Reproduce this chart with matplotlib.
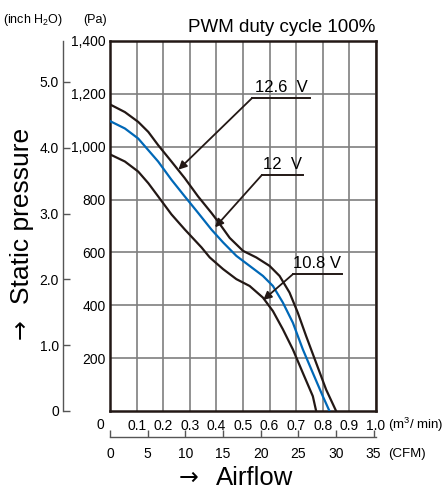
import numpy as np
import matplotlib
matplotlib.use("Agg")
from matplotlib import pyplot as plt

# airflow (m3/min) vs static pressure (Pa)
q_126 = [0, 0.056, 0.106, 0.144, 0.181, 0.231, 0.281, 0.331, 0.381, 0.406, 0.45, 0.5, 0.55, 0.6,
         0.6375, 0.675, 0.706, 0.7375, 0.775, 0.8125, 0.85]
p_126 = [1160, 1131, 1094, 1056, 1006, 944, 881, 812, 750, 717, 655, 606, 581, 549,
         511, 448, 372, 283, 182, 81, 0]

q_120 = [0, 0.056, 0.106, 0.144, 0.181, 0.231, 0.281, 0.331, 0.381, 0.425, 0.475, 0.525, 0.575,
         0.6125, 0.65, 0.6875, 0.725, 0.7625, 0.8, 0.825]
p_120 = [1097, 1069, 1031, 987, 944, 875, 812, 750, 687, 638, 587, 549, 511,
         473, 410, 334, 233, 144, 56, 0]

q_108 = [0, 0.056, 0.106, 0.144, 0.181, 0.231, 0.281, 0.344, 0.375, 0.425, 0.475, 0.525, 0.575,
         0.6125, 0.65, 0.6875, 0.725, 0.7625, 0.775]
p_108 = [971, 944, 906, 862, 812, 744, 687, 619, 581, 537, 499, 473, 429,
         378, 309, 233, 144, 56, 0]

pa_ticks = [200, 400, 600, 800, 1000, 1200, 1400]
pa_labels = ["200", "400", "600", "800", "1,000", "1,200", "1,400"]
inch_ticks = [0, 1, 2, 3, 4, 5]
inch_labels = ["0", "1.0", "2.0", "3.0", "4.0", "5.0"]
m3_ticks = [0.1, 0.2, 0.3, 0.4, 0.5, 0.6, 0.7, 0.8, 0.9, 1.0]
cfm_ticks = [0, 5, 10, 15, 20, 25, 30, 35]

PA_PER_INCH = 249.09
CFM_PER_M3 = 35.3147

FONT = ['Liberation Sans', 'DejaVu Sans']
plt.rcParams['font.family'] = FONT
BLACK = "#231815"
BLUE = "#0068b7"
GRID = "#7f7f7f"
AXGRAY = "#555555"

fig = plt.figure(figsize=(4.42, 4.91), dpi=100)
ax = fig.add_axes([110/442, 80/491, 266/442, 370/491])

for q, p, c in [(q_126, p_126, BLACK), (q_120, p_120, BLUE), (q_108, p_108, BLACK)]:
    ax.plot(q, p, color=c, lw=1.6, zorder=3, solid_joinstyle='round')

ax.set_xlim(0, 1.0)
ax.set_ylim(0, 1400)
ax.set_xticks(m3_ticks)
ax.set_xticklabels(["%.1f" % t for t in m3_ticks], fontsize=10)
ax.set_yticks(pa_ticks)
ax.set_yticklabels(pa_labels, fontsize=10)
ax.tick_params(length=0, pad=3)
ax.tick_params(axis='x', pad=6)
ax.grid(True, color=GRID, lw=1.2)
ax.set_axisbelow(True)
for s in ax.spines.values():
    s.set_linewidth(1.8)
    s.set_color(BLACK)
fig.text(100/442, 1 - 425/491, "0", ha='center', va='center', fontsize=10)

# inch H2O axis
sec = ax.secondary_yaxis(-47/266, functions=(lambda p: p / PA_PER_INCH, lambda i: i * PA_PER_INCH))
sec.set_yticks(inch_ticks)
sec.set_yticklabels(inch_labels, fontsize=10)
sec.tick_params(direction='in', length=5, width=1, color=AXGRAY, pad=3)
sec.spines['left'].set_color(AXGRAY)
sec.spines['left'].set_linewidth(1)

# CFM axis
cfm = ax.secondary_xaxis(-26/370, functions=(lambda m: m * CFM_PER_M3, lambda c: c / CFM_PER_M3))
cfm.set_xticks(cfm_ticks)
cfm.set_xticklabels([str(t) for t in cfm_ticks], fontsize=10)
cfm.tick_params(direction='in', length=5, width=1, color=AXGRAY, pad=7)
cfm.spines['bottom'].set_color(AXGRAY)
cfm.spines['bottom'].set_linewidth(1)

# voltage labels: text, underline start/end, underline level, arrow tip
labels = [("12.6  V", 0.534, 0.752, 1184, (0.257, 913)),
          ("12  V", 0.571, 0.726, 893, (0.395, 695)),
          ("10.8 V", 0.688, 0.872, 518, (0.576, 420))]
for txt, x0, x1, y, tip in labels:
    ax.plot([x0, x1], [y, y], color=BLACK, lw=1.4, zorder=4, clip_on=False)
    ax.annotate("", xy=tip, xytext=(x0, y),
                arrowprops=dict(arrowstyle='-|>', color=BLACK, lw=1.3, mutation_scale=12, shrinkA=0, shrinkB=0),
                zorder=4)
    ax.text((x0 + x1) / 2, y + 12, txt, ha='center', va='bottom', fontsize=12, zorder=5)

fig.text(375/442, 1 - 27/491, "PWM duty cycle 100%", ha='right', va='center', fontsize=13.5)
fig.text(33/442, 1 - 20/491, "(inch H$_\\mathregular{2}$O)", ha='center', va='center', fontsize=9)
fig.text(107/442, 1 - 20/491, "(Pa)", ha='right', va='center', fontsize=9)
fig.text(388/442, 1 - 425/491, "(m$^\\mathregular{3}$/ min)", ha='left', va='center', fontsize=9.5)
fig.text(388/442, 1 - 454/491, "(CFM)", ha='left', va='center', fontsize=9.5)

# axis titles with arrows
fig.text(216/442, 1 - 478/491, "Airflow", ha='left', va='center', fontsize=18.5)
fig.text(189/442, 1 - 478/491, "\u2192", ha='center', va='center', fontsize=17, family='DejaVu Sans')
fig.text(22/442, 1 - 216/491, "Static pressure", ha='center', va='center', rotation=90, fontsize=19)
fig.text(21/442, 1 - 329/491, "\u2192", ha='center', va='center', rotation=90, fontsize=17, family='DejaVu Sans')

fig.savefig("out.png", dpi=100)
